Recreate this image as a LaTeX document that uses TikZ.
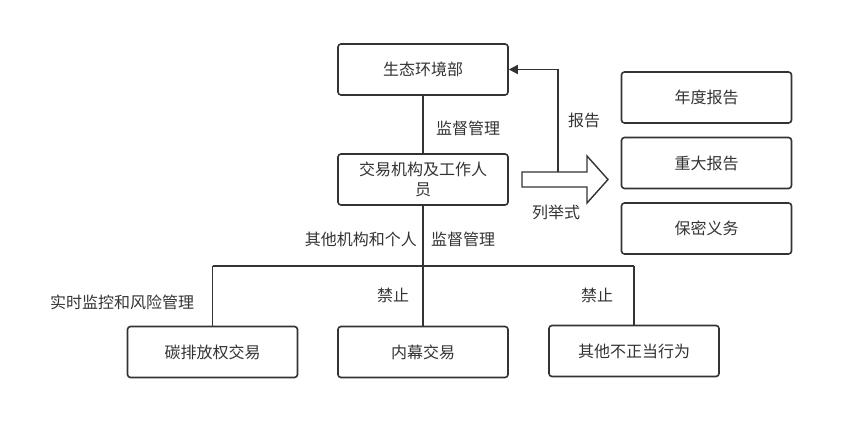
\documentclass[tikz,border=0pt]{standalone}
\usepackage{fontspec}
\setmainfont{Noto Sans CJK SC}
\usetikzlibrary{arrows.meta}
\definecolor{ln}{HTML}{333333}
\definecolor{tx}{HTML}{333333}
\tikzset{
  box/.style={draw=ln, line width=1.6pt, rounded corners=3pt, fill=white,
    minimum width=170pt, minimum height=51pt, inner sep=0pt, align=center,
    font=\fontsize{16}{20}\selectfont, text=tx},
  lbl/.style={font=\fontsize{16}{20}\selectfont, text=tx, inner sep=0pt},
  conn/.style={draw=ln, line width=1.4pt},
}
\begin{document}
\begin{tikzpicture}[x=1pt,y=-1pt]
\useasboundingbox (0,0) rectangle (864,435);
\node[box] (env) at (423,69.5) {生态环境部};
\node[box] (org) at (423,179.5) {交易机构及工作人\\员};
\node[box] (annual) at (706.5,97.5) {年度报告};
\node[box] (major) at (706.5,163) {重大报告};
\node[box] (secret) at (706.5,228.5) {保密义务};
\node[box] (carbon) at (212.5,352) {碳排放权交易};
\node[box] (insider) at (423,352) {内幕交易};
\node[box] (other) at (634,351) {其他不正当行为};
% connectors
\draw[conn] (env) -- (org);
\coordinate (bl) at (212.5,266);
\coordinate (bm) at (423,266);
\coordinate (br) at (634,266);
\draw[conn] (org.south) -- (bm);
\draw[conn] (bl) -- (br);
\draw[conn] (bl) -- (carbon.north);
\draw[conn] (bm) -- (insider.north);
\draw[conn] (br) -- (other.north);
% block arrow
\draw[draw=ln, line width=1.4pt, fill=white, line join=miter]
  (522,172) -- (587,172) -- (587,156) -- (608,179.5) -- (587,203) -- (587,187) -- (522,187) -- cycle;
\coordinate (rp) at (558,172);
\draw[conn, -{Triangle[length=9pt,width=9pt]}] (rp) |- (env.east);
% labels
\node[lbl] (l1) at (468,128) {监督管理};
\node[lbl] (l2) at (584,120) {报告};
\node[lbl] (l3) at (556,212) {列举式};
\node[lbl, anchor=east] (l4) at (417,239) {其他机构和个人};
\node[lbl, anchor=west] (l5) at (431,239) {监督管理};
\node[lbl] (l6) at (122,302) {实时监控和风险管理};
\node[lbl] (l7) at (393,295) {禁止};
\node[lbl] (l8) at (597,295) {禁止};
\end{tikzpicture}
\end{document}
